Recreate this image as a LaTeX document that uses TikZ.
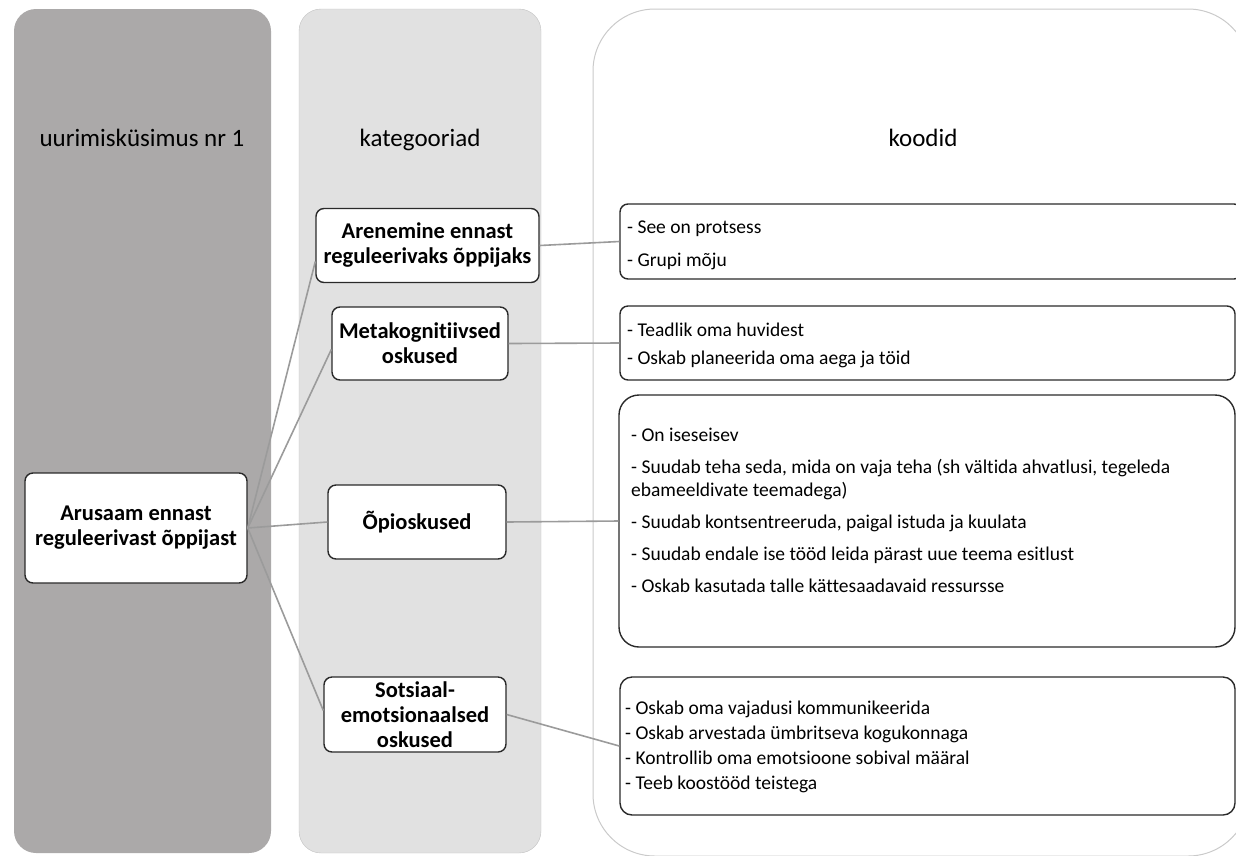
\documentclass[tikz,border=0pt]{standalone}
\usepackage{fontspec}
\setmainfont{Carlito}[Ligatures=NoCommon]
\definecolor{colA}{HTML}{ABA9A9}
\definecolor{colB}{HTML}{E1E1E1}
\definecolor{rimB}{HTML}{C2C2C2}
\definecolor{rimC}{HTML}{CACACA}
\definecolor{boxrim}{HTML}{2A2A2A}
\definecolor{linkgray}{HTML}{9B9B9B}
\begin{document}
\begin{tikzpicture}[x=1pt,y=-1pt]
    \useasboundingbox (0,0) rectangle (1236,855);
    \fill[colA, rounded corners=22pt] (14,9) rectangle (271,853);
    \draw[rimB, fill=colB, rounded corners=22pt] (299,9) rectangle (541,853);
    \draw[rimC, line width=1pt, rounded corners=62pt] (593,9) rectangle (1250,856);

    \begin{scope}[every node/.style={anchor=base, font=\fontsize{25}{30}\selectfont}]
        \node (H1) at (142,146) {uurimisküsimus nr 1};
        \node (H2) at (420,146) {kategooriad};
        \node (H3) at (923,146) {koodid};
    \end{scope}

    \begin{scope}[every node/.style={draw=boxrim, line width=1.4pt, fill=white, rounded corners=8pt, align=center, inner sep=0pt, font=\bfseries\fontsize{22.5}{25}\selectfont}]
        \node[minimum width=222pt, minimum height=110pt] (R) at (136,528) {Arusaam ennast\\reguleerivast õppijast};
        \node[minimum width=223pt, minimum height=74pt] (C1) at (427.5,245.5) {Arenemine ennast\\reguleerivaks õppijaks};
        \node[minimum width=176pt, minimum height=73pt] (C2) at (420,343.5) {Metakognitiivsed\\oskused};
        \node[minimum width=178pt, minimum height=74pt] (C3) at (417,522) {Õpioskused};
        \node[minimum width=182pt, minimum height=75pt] (C4) at (415,714.5) {Sotsiaal-\\emotsionaalsed\\oskused};
    \end{scope}

    \begin{scope}[every node/.style={draw=boxrim, line width=1.4pt, fill=white, inner sep=0pt}]
        \node[rounded corners=8pt, minimum width=622pt, minimum height=75pt] (K1) at (931,241.5) {};
        \node[rounded corners=8pt, minimum width=615pt, minimum height=74pt] (K2) at (927.5,343) {};
        \node[rounded corners=20pt, minimum width=616pt, minimum height=252pt] (K3) at (927,521) {};
        \node[rounded corners=12pt, minimum width=615pt, minimum height=138pt] (K4) at (927.5,746) {};
    \end{scope}

    \begin{scope}[every node/.style={anchor=north west, align=left, inner sep=0pt, font=\fontsize{19.5}{23}\selectfont}]
        \node (T1) at (627,217) {\strut- See on protsess\\[10pt]- Grupi mõju};
        \node (T2) at (627,320) {\strut- Teadlik oma huvidest\\[5pt]- Oskab planeerida oma aega ja töid};
        \node (T3) at (631,425) {\strut- On iseseisev\\[9pt]- Suudab teha seda, mida on vaja teha (sh vältida ahvatlusi, tegeleda\\ebameeldivate teemadega)\\[9pt]- Suudab kontsentreeruda, paigal istuda ja kuulata\\[9pt]- Suudab endale ise tööd leida pärast uue teema esitlust\\[9pt]- Oskab kasutada talle kättesaadavaid ressursse};
        \node (T4) at (625,698) {\strut- Oskab oma vajadusi kommunikeerida\\[2pt]- Oskab arvestada ümbritseva kogukonnaga\\[2pt]- Kontrollib oma emotsioone sobival määral\\[2pt]- Teeb koostööd teistega};
    \end{scope}

    \begin{scope}[linkgray, line width=1.6pt]
        \draw (R.east) -- ([yshift=-16pt]C1.west);
        \draw (R.east) -- ([yshift=-6pt]C2.west);
        \draw (R.east) -- (C3.west);
        \draw (R.east) -- ([yshift=4pt]C4.west);
        \draw (C1.east) -- (K1.west);
        \draw (C2.east) -- (K2.west);
        \draw (C3.east) -- (K3.west);
        \draw (C4.east) -- (K4.west);
    \end{scope}
\end{tikzpicture}
\end{document}
